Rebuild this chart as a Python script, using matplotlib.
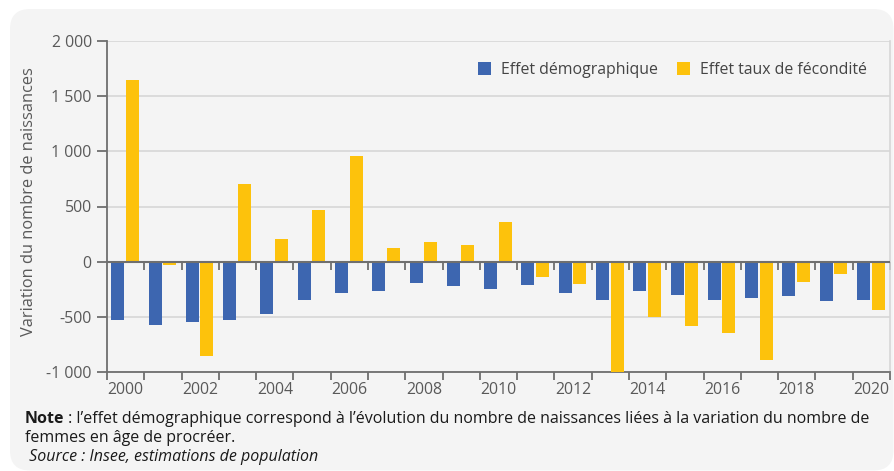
import matplotlib
matplotlib.use("Agg")
import matplotlib.pyplot as plt
from matplotlib.patches import FancyBboxPatch, Patch
import numpy as np

plt.rcParams['font.family'] = ['Open Sans', 'DejaVu Sans']

years = list(range(2000, 2021))
effet_demo = [-525, -570, -545, -525, -470, -345, -285, -270, -190, -225, -245,
              -215, -285, -345, -270, -305, -350, -325, -315, -360, -350]
effet_fecond = [1645, -30, -855, 700, 205, 465, 960, 125, 180, 150, 360,
                -135, -205, -1000, -500, -585, -650, -895, -180, -110, -440]
yticks = [-1000, -500, 0, 500, 1000, 1500, 2000]
ytick_labels = ['-1 000', '-500', '0', '500', '1 000', '1 500', '2 000']
legend_labels = ['Effet démographique', 'Effet taux de fécondité']
ylabel = 'Variation du nombre de naissances'

BLUE = '#3d66b0'
YELLOW = '#fdc20c'
CARD = '#f4f4f4'
GRID = '#d6d6d6'
AXIS = '#6f6f6f'
TICKTXT = '#595959'
FS = 11.4

W, H = 894, 471
fig = plt.figure(figsize=(W / 100, H / 100), dpi=100)
fig.patch.set_facecolor('white')

card = FancyBboxPatch((10 / 100, 0.5 / 100), (W - 10) / 100 - 0.005, (H - 9 - 0.5) / 100,
                      boxstyle="round,pad=0,rounding_size=0.2",
                      transform=fig.dpi_scale_trans, facecolor=CARD, edgecolor='none',
                      zorder=-10)
fig.patches.append(card)

ax = fig.add_axes([107 / W, 1 - 372 / H, (890 - 107) / W, (372 - 41) / H])
ax.set_facecolor('none')

x = np.arange(len(years))
w = 0.35
ax.bar(x - 0.21, effet_demo, width=w, color=BLUE, zorder=3)
ax.bar(x + 0.18, effet_fecond, width=w, color=YELLOW, zorder=3)

ax.set_xlim(-0.5, len(years) - 0.5)
ax.set_ylim(-1000, 2000)

ax.set_yticks(yticks)
ax.set_yticklabels(ytick_labels)
ax.yaxis.grid(True, color=GRID, linewidth=1.2, zorder=0)
ax.axhline(0, color=AXIS, linewidth=1.5, zorder=4)

major = x[::2]
ax.set_xticks(major)
ax.set_xticklabels([str(years[i]) for i in major])
ax.set_xticks(np.arange(-0.5, len(years), 1.0), minor=True)
ax.tick_params(axis='x', which='major', length=0, pad=7.5, labelsize=FS, labelcolor=TICKTXT)
ax.tick_params(axis='x', which='minor', length=6, width=1.3, color=AXIS, direction='out')
ax.tick_params(axis='y', length=7, width=1.3, color=AXIS, pad=4, labelsize=FS, labelcolor=TICKTXT)

ax.spines['top'].set_visible(False)
ax.spines['right'].set_color(GRID)
ax.spines['right'].set_linewidth(1.2)
ax.spines['left'].set_color(AXIS)
ax.spines['left'].set_linewidth(1.3)
ax.spines['bottom'].set_color(AXIS)
ax.spines['bottom'].set_linewidth(1.3)

# tick marks on the zero line
sec = ax.secondary_xaxis(1000 / 3000)
sec.set_xticks(np.arange(0.5, len(years), 1.0))
sec.set_xticklabels([])
sec.tick_params(length=6, width=1.3, color=AXIS, direction='out')
sec.spines['bottom'].set_visible(False)
sec.spines['top'].set_visible(False)

ax.set_ylabel(ylabel, fontsize=11.8, color=TICKTXT, va='center')
ax.yaxis.set_label_coords(-(107 - 29) / (890 - 107), 0.514)

handles = [Patch(facecolor=BLUE, edgecolor='none'), Patch(facecolor=YELLOW, edgecolor='none')]
leg = ax.legend(handles, legend_labels, loc='upper right', bbox_to_anchor=(0.978, 0.955),
                frameon=False, ncol=2, fontsize=FS, handlelength=0.85, handleheight=0.85,
                handletextpad=0.6, columnspacing=1.2, borderaxespad=0)
for t in leg.get_texts():
    t.set_color('#444444')

NOTE_FS = 11.5
TXT = '#1a1a1a'
tn = fig.text(25 / W, 1 - 423 / H, 'Note', fontsize=NOTE_FS, fontweight='bold', color=TXT,
              va='baseline')
ax.annotate(" : l\u2019effet démographique correspond à l\u2019évolution du nombre de naissances liées à la variation du nombre de",
            xy=(1, 0), xycoords=tn, va='bottom', ha='left', fontsize=NOTE_FS, color=TXT,
            annotation_clip=False)
fig.text(25 / W, 1 - 442 / H, 'femmes en âge de procréer.', fontsize=NOTE_FS, color=TXT, va='baseline')
fig.text(25 / W, 1 - 461 / H, ' Source : Insee, estimations de population', fontsize=NOTE_FS,
         style='italic', color=TXT, va='baseline')

fig.savefig('out.png', dpi=100, facecolor=fig.get_facecolor())
